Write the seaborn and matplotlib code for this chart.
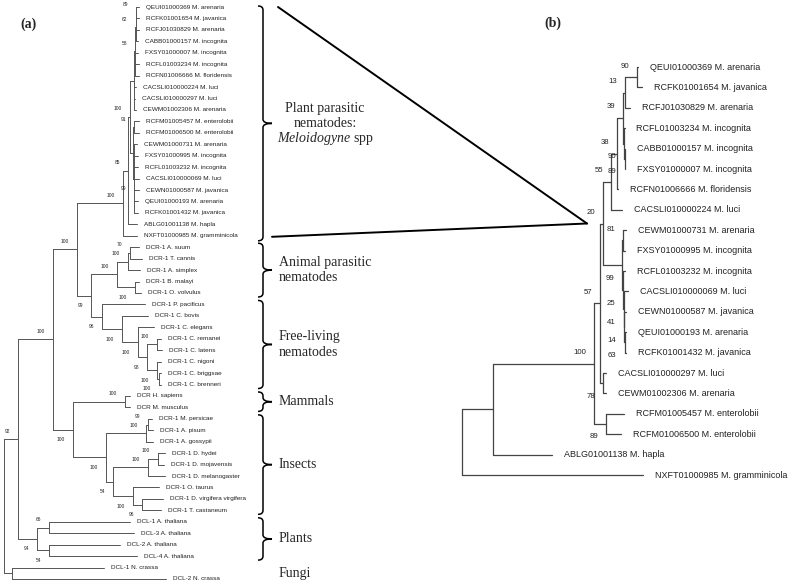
import numpy as np
import pandas as pd
import matplotlib
matplotlib.use("Agg")
import matplotlib.pyplot as plt
from matplotlib.path import Path
from matplotlib.patches import PathPatch
import seaborn as sns

# ---- tree (a): DCR / DCL proteins. edges = (parent, child, branch length, bootstrap)
backbone_a = [
    ("root", "A", 14, 92), ("root", "Fungi", 8, None),
    ("A", "A1", 35, 100), ("A", "Plants", 19, 94),
    ("A1", "Nem", 24, 100), ("A1", "MI", 20, 100),
    ("Nem", "Mel", 46, 100), ("Nem", "Oth", 14, 99),
]
meloidogyne_a = [
    ("Mel", "M85", 5, 85), ("Mel", "NXFT01000985 M. gramminicola", 14, None),
    ("M85", "M100", 2, 100), ("M85", "ABLG01001138 M. hapla", 9, None),
    ("M100", "Up", 4, None), ("M100", "Lo", 3, None),
    ("Up", "N58", 1, 58), ("Up", "CACSLI010000224 M. luci", 2, None),
    ("Up", "CACSLI010000297 M. luci", 1, None), ("Up", "CEWM01002306 M. arenaria", 2, None),
    ("N58", "N62", 0.5, 62), ("N58", "FXSY01000007 M. incognita", 3, None),
    ("N58", "RCFL01003234 M. incognita", 3.5, None), ("N58", "RCFN01006666 M. floridensis", 3.5, None),
    ("N62", "N89", 0.5, 89), ("N62", "RCFJ01030829 M. arenaria", 3.5, None),
    ("N62", "CABB01000157 M. incognita", 2.5, None),
    ("N89", "QEUI01000369 M. arenaria", 3, None), ("N89", "RCFK01001654 M. javanica", 3, None),
    ("Lo", "N91", 1, 91), ("Lo", "N99", 1, 99),
    ("N91", "RCFM01005457 M. enterolobii", 5, None), ("N91", "RCFM01006500 M. enterolobii", 5, None),
    ("N99", "CEWM01000731 M. arenaria", 3, None), ("N99", "FXSY01000995 M. incognita", 4, None),
    ("N99", "RCFL01003232 M. incognita", 4, None), ("N99", "CACSLI010000069 M. luci", 5, None),
    ("N99", "CEWN01000587 M. javanica", 5, None), ("N99", "QEUI01000193 M. arenaria", 4, None),
    ("N99", "RCFK01001432 M. javanica", 4, None),
]
nematodes_a = [
    ("Oth", "AP", 26, 100), ("Oth", "FL", 11, 96),
    ("AP", "AS", 11, 100), ("AP", "BO", 18, 100),
    ("AS", "ST", 2, 70), ("AS", "DCR-1 A. simplex", 12, None),
    ("ST", "DCR-1 A. suum", 9, None), ("ST", "DCR-1 T. cannis", 12, None),
    ("BO", "DCR-1 B. malayi", 4, None), ("BO", "DCR-1 O. volvulus", 6, None),
    ("FL", "DCR-1 P. pacificus", 43, None), ("FL", "Cn", 20, 100),
    ("Cn", "DCR-1 C. bovis", 26, None), ("Cn", "Cel", 16, 100),
    ("Cel", "DCR-1 C. elegans", 16, None), ("Cel", "Crem", 9, 98),
    ("Crem", "RL", 10, 100), ("Crem", "NBB", 10, 100),
    ("RL", "DCR-1 C. remanei", 4, None), ("RL", "DCR-1 C. latens", 5, None),
    ("NBB", "DCR-1 C. nigoni", 4, None), ("NBB", "BB", 2, 100),
    ("BB", "DCR-1 C. briggsae", 2, None), ("BB", "DCR-1 C. brenneri", 2, None),
]
mammal_insect_a = [
    ("MI", "Mam", 52, 100), ("MI", "Ins", 33, 100),
    ("Mam", "DCR H. sapiens", 5, None), ("Mam", "DCR M. musculus", 5, None),
    ("Ins", "Aph", 40, 100), ("Ins", "Col", 7, 54),
    ("Aph", "PP", 2, 99), ("Aph", "DCR-1 A. gossypii", 7, None),
    ("PP", "DCR-1 M. persicae", 4, None), ("PP", "DCR-1 A. pisum", 5, None),
    ("Col", "Dros", 35, 100), ("Col", "Beetle", 20, 100),
    ("Dros", "HM", 10, 100), ("Dros", "DCR-1 D. melanogaster", 17, None),
    ("HM", "DCR-1 D. hydei", 7, None), ("HM", "DCR-1 D. mojavensis", 6, None),
    ("Beetle", "DCR-1 O. taurus", 26, None), ("Beetle", "VT", 9, 96),
    ("VT", "DCR-1 D. virgifera virgifera", 21, None), ("VT", "DCR-1 T. castaneum", 19, None),
]
plant_fungi_a = [
    ("Plants", "P13", 12, 66), ("Plants", "P24", 12, 54),
    ("P13", "DCL-1 A. thaliana", 81, None), ("P13", "DCL-3 A. thaliana", 85, None),
    ("P24", "DCL-2 A. thaliana", 71, None), ("P24", "DCL-4 A. thaliana", 88, None),
    ("Fungi", "DCL-1 N. crassa", 92, None), ("Fungi", "DCL-2 N. crassa", 154, None),
]
tree_a = backbone_a + meloidogyne_a + nematodes_a + mammal_insect_a + plant_fungi_a

# ---- tree (b): Meloidogyne DCR-1 only
tree_b = [
    ("root", "X", 31, None), ("root", "NXFT01000985 M. gramminicola", 181, None),
    ("X", "Y", 101, 100), ("X", "ABLG01001138 M. hapla", 59, None),
    ("Y", "Z", 6, 57), ("Y", "E", 12, 89),
    ("Z", "T", 3, 20), ("Z", "N78", 3, 78),
    ("T", "U", 8, 55), ("T", "V", 19, 99),
    ("U", "W", 6, 38), ("U", "CACSLI010000224 M. luci", 11, None),
    ("W", "N39", 6, 39), ("W", "RCFN01006666 M. floridensis", 0.5, None),
    ("N39", "N13", 2, 13), ("N39", "T3", 1, 90),
    ("N13", "N90", 12, 90), ("N13", "RCFJ01030829 M. arenaria", 5, None),
    ("N90", "QEUI01000369 M. arenaria", 1, None), ("N90", "RCFK01001654 M. javanica", 5, None),
    ("T3", "RCFL01003234 M. incognita", 0.5, None), ("T3", "N89", 0.5, 89),
    ("N89", "CABB01000157 M. incognita", 0.5, None), ("N89", "FXSY01000007 M. incognita", 0.5, None),
    ("V", "N81", 1, 81), ("V", "N25", 1, 25),
    ("N81", "CEWM01000731 M. arenaria", 3, None), ("N81", "FXSY01000995 M. incognita", 2, None),
    ("N25", "RCFL01003232 M. incognita", 2, None), ("N25", "N41", 0.5, 41),
    ("N41", "CACSLI010000069 M. luci", 4, None), ("N41", "N14", 0.5, 14),
    ("N14", "CEWN01000587 M. javanica", 2, None), ("N14", "N63", 0.5, 63),
    ("N63", "QEUI01000193 M. arenaria", 1, None), ("N63", "RCFK01001432 M. javanica", 1, None),
    ("N78", "CACSLI010000297 M. luci", 3, None), ("N78", "CEWM01002306 M. arenaria", 3, None),
    ("E", "RCFM01005457 M. enterolobii", 18, None), ("E", "RCFM01006500 M. enterolobii", 15, None),
]

# clade brackets in (a): label, first leaf, last leaf
group_labels = ["Animal parasitic\nnematodes", "Free-living\nnematodes", "Mammals", "Insects", "Plants"]
group_first = ["DCR-1 A. suum", "DCR-1 P. pacificus", "DCR H. sapiens", "DCR-1 M. persicae", "DCL-1 A. thaliana"]
group_last = ["DCR-1 O. volvulus", "DCR-1 C. brenneri", "DCR M. musculus", "DCR-1 T. castaneum", "DCL-4 A. thaliana"]


def layout(edges, x0, y0, dy):
    kids, blen, supp = {}, {}, {}
    for p, c, l, s in edges:
        kids.setdefault(p, []).append(c)
        blen[c] = l
        supp[c] = s
    pos, leaves = {}, []

    def walk(node, x):
        if node not in kids:
            y = y0 + len(leaves) * dy
            leaves.append(node)
        else:
            ys = [walk(c, x + blen[c]) for c in kids[node]]
            y = (ys[0] + ys[-1]) / 2
        pos[node] = (x, y)
        return y

    walk("root", x0)
    return kids, supp, pos, leaves


def segments(kids, pos):
    rows, k = [], 0
    for p, cs in kids.items():
        px = pos[p][0]
        rows += [(k, px, pos[cs[0]][1]), (k, px, pos[cs[-1]][1])]
        k += 1
        for c in cs:
            cx, cy = pos[c]
            rows += [(k, px, cy), (k, cx, cy)]
            k += 1
    return pd.DataFrame(rows, columns=["seg", "x", "y"])


def draw_tree(ax, edges, x0, y0, dy, color, lw, fs, fs_boot, gap, bx, up, down):
    kids, supp, pos, leaves = layout(edges, x0, y0, dy)
    df = segments(kids, pos)
    sns.lineplot(data=df, x="x", y="y", units="seg", estimator=None, sort=False,
                 color=color, lw=lw, ax=ax, legend=False)
    for leaf in leaves:
        x, y = pos[leaf]
        ax.text(x + gap, y, leaf, ha="left", va="center", fontsize=fs, color="#222222")
    for p, cs in kids.items():
        for i, c in enumerate(cs):
            if supp[c] is None:
                continue
            cx, cy = pos[c]
            ty = cy - up if i == 0 else cy + down
            ax.text(cx - bx, ty, str(supp[c]), ha="right", va="center",
                    fontsize=fs_boot, color="#222222")
    return pos


def brace(ax, x, y0, y1, curl=5, tick=9, r=4):
    ym = (y0 + y1) / 2
    verts = [(x - curl, y0), (x, y0), (x, y0 + r),
             (x, ym - r), (x, ym), (x + tick, ym),
             (x, ym), (x, ym + r),
             (x, y1 - r), (x, y1), (x - curl, y1)]
    codes = [Path.MOVETO, Path.CURVE3, Path.CURVE3,
             Path.LINETO, Path.CURVE3, Path.CURVE3,
             Path.CURVE3, Path.CURVE3,
             Path.LINETO, Path.CURVE3, Path.CURVE3]
    ax.add_patch(PathPatch(Path(verts, codes), fill=False, lw=1.1, color="black"))
    return ym


sns.set_theme(style="white")
plt.rcParams["font.family"] = ["Liberation Sans", "DejaVu Sans"]
plt.rcParams["mathtext.fontset"] = "custom"
plt.rcParams["mathtext.rm"] = "Liberation Serif"
plt.rcParams["mathtext.it"] = "Liberation Serif:italic"

fig = plt.figure(figsize=(7.93, 5.84), dpi=100)
ax = fig.add_axes([0, 0, 1, 1])

pos_a = draw_tree(ax, tree_a, x0=4, y0=7, dy=11.44, color="#555555", lw=0.7,
                  fs=4.6, fs_boot=3.5, gap=7, bx=8, up=8, down=10)
pos_b = draw_tree(ax, tree_b, x0=462, y0=67, dy=20.4, color="#444444", lw=0.9,
                  fs=6.5, fs_boot=5.6, gap=12, bx=8, up=11, down=13)

serif = "Liberation Serif"
bx_x = 263
# Meloidogyne bracket and zoom triangle
mel_top = pos_a["QEUI01000369 M. arenaria"][1] - 1
mel_bot = pos_a["NXFT01000985 M. gramminicola"][1] + 5
ym = brace(ax, bx_x, mel_top, mel_bot)
apex = (pos_b["T"][0] - 16, pos_b["T"][1])
ax.plot([bx_x + 15, apex[0]], [mel_top + 1, apex[1]], color="black", lw=1.4)
ax.plot([bx_x + 9, apex[0]], [mel_bot - 4, apex[1]], color="black", lw=1.4)
ax.text(325, ym - 15, "Plant parasitic", ha="center", va="center", fontsize=10, family=serif)
ax.text(325, ym, "nematodes:", ha="center", va="center", fontsize=10, family=serif)
ax.text(325, ym + 15, r"$\it{Meloidogyne}$ spp", ha="center", va="center", fontsize=10, family=serif)

for lab, f, l in zip(group_labels, group_first, group_last):
    ym = brace(ax, bx_x, pos_a[f][1] - 4, pos_a[l][1] + 4)
    ax.text(bx_x + 16, ym, lab, ha="left", va="center", fontsize=10, family=serif, linespacing=1.25)

fy = (pos_a["DCL-1 N. crassa"][1] + pos_a["DCL-2 N. crassa"][1]) / 2
ax.text(bx_x + 16, fy, "Fungi", ha="left", va="center", fontsize=10, family=serif)

ax.text(20, 24, "(a)", ha="left", va="center", fontsize=10, fontweight="bold", family=serif)
ax.text(544, 23, "(b)", ha="left", va="center", fontsize=10, fontweight="bold", family=serif)

ax.set_xlim(0, 793)
ax.set_ylim(584, 0)
ax.set_axis_off()
fig.savefig("out.png", dpi=100)
